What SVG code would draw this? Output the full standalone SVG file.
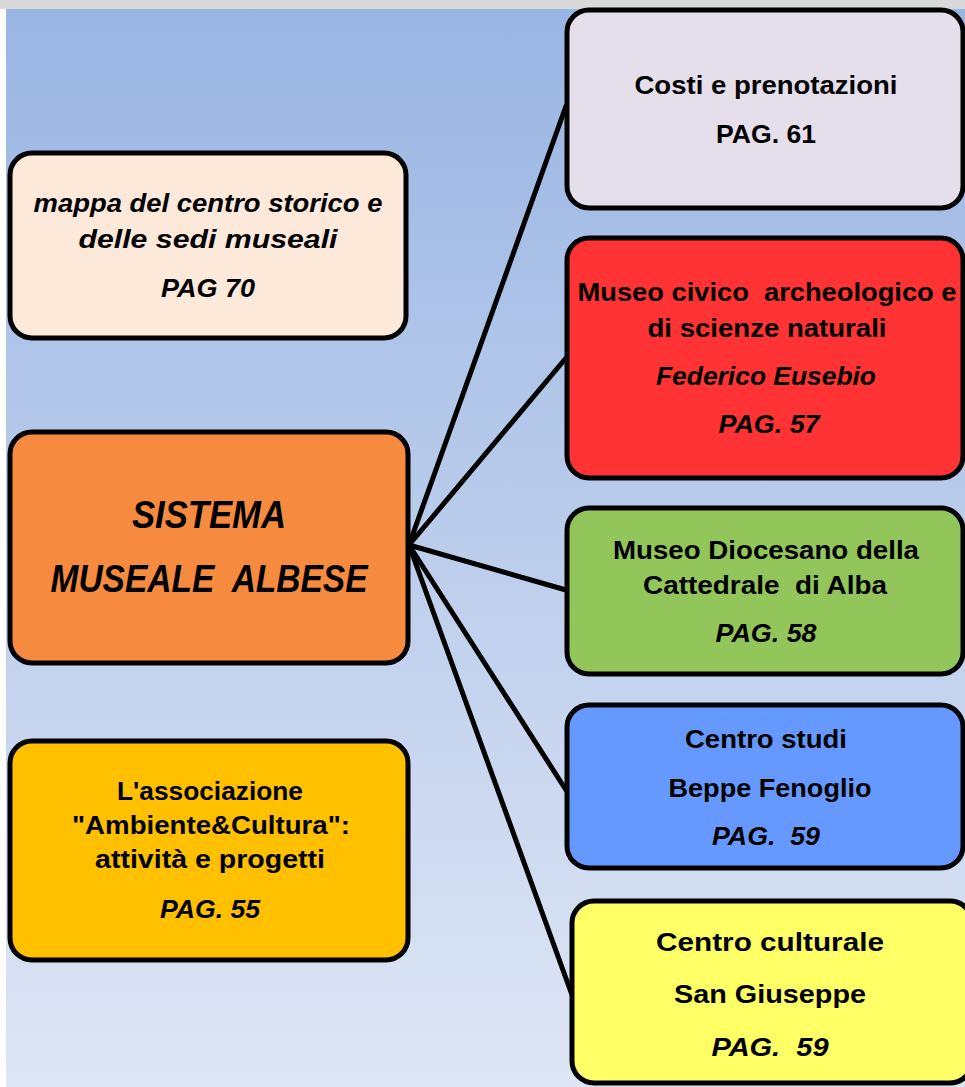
<svg xmlns="http://www.w3.org/2000/svg" width="965" height="1087" viewBox="0 0 965 1087">
<defs>
<linearGradient id="bg" x1="0" y1="0" x2="0" y2="1">
<stop offset="0" stop-color="#99b5e3"/>
<stop offset="0.5" stop-color="#bccdec"/>
<stop offset="1" stop-color="#dee6f5"/>
</linearGradient>
<style>
.box{stroke:#000;stroke-width:5}
.t{font-family:"Liberation Sans",Arial,sans-serif;font-weight:bold;font-size:26px;fill:#000;text-anchor:middle;white-space:pre}
.i{font-style:italic}
.big{font-size:38px}
.conn line{stroke:#000;stroke-width:5;stroke-linecap:round}
</style>
</defs>
<rect x="0" y="0" width="965" height="1087" fill="#ffffff"/>
<rect x="6" y="9" width="959" height="1078" fill="url(#bg)"/>
<rect x="0" y="0" width="965" height="9" fill="#d9d9d9"/>
<g class="conn">
<line x1="409" y1="545" x2="566" y2="106"/>
<line x1="409" y1="545" x2="566" y2="358"/>
<line x1="409" y1="545" x2="566" y2="590"/>
<line x1="409" y1="545" x2="566" y2="790"/>
<line x1="409" y1="545" x2="572" y2="995"/>
</g>
<g id="costi">
<rect class="box" x="567" y="10" width="396" height="198" rx="22" fill="#e5dfec"/>
<text class="t" x="766" y="94" textLength="263" lengthAdjust="spacingAndGlyphs">Costi e prenotazioni</text>
<text class="t" x="766" y="143" textLength="100" lengthAdjust="spacingAndGlyphs">PAG. 61</text>
</g>
<g id="museo-civico">
<rect class="box" x="567" y="238" width="396" height="240" rx="22" fill="#ff3333"/>
<text class="t" x="767" y="301" textLength="379" lengthAdjust="spacingAndGlyphs">Museo civico  archeologico e</text>
<text class="t" x="767" y="337" textLength="239" lengthAdjust="spacingAndGlyphs">di scienze naturali</text>
<text class="t i" x="766" y="385" textLength="220" lengthAdjust="spacingAndGlyphs">Federico Eusebio</text>
<text class="t i" x="769" y="433" textLength="101" lengthAdjust="spacingAndGlyphs">PAG. 57</text>
</g>
<g id="museo-diocesano">
<rect class="box" x="567" y="508" width="396" height="166" rx="22" fill="#92c55a"/>
<text class="t" x="766" y="559" textLength="306" lengthAdjust="spacingAndGlyphs">Museo Diocesano della</text>
<text class="t" x="765" y="594" textLength="244" lengthAdjust="spacingAndGlyphs">Cattedrale  di Alba</text>
<text class="t i" x="766" y="642" textLength="101" lengthAdjust="spacingAndGlyphs">PAG. 58</text>
</g>
<g id="centro-studi">
<rect class="box" x="567" y="705" width="396" height="163" rx="22" fill="#6699ff"/>
<text class="t" x="766" y="748" textLength="162" lengthAdjust="spacingAndGlyphs">Centro studi</text>
<text class="t" x="770" y="797" textLength="203" lengthAdjust="spacingAndGlyphs">Beppe Fenoglio</text>
<text class="t i" x="766" y="845" textLength="108" lengthAdjust="spacingAndGlyphs">PAG.  59</text>
</g>
<g id="centro-culturale">
<rect class="box" x="572" y="901" width="400" height="182" rx="22" fill="#ffff66"/>
<text class="t" x="770" y="951" textLength="228" lengthAdjust="spacingAndGlyphs">Centro culturale</text>
<text class="t" x="770" y="1003" textLength="192" lengthAdjust="spacingAndGlyphs">San Giuseppe</text>
<text class="t i" x="770" y="1056" textLength="117" lengthAdjust="spacingAndGlyphs">PAG.  59</text>
</g>
<g id="mappa">
<rect class="box" x="10" y="153" width="396" height="185" rx="22" fill="#fde9d9"/>
<text class="t i" x="208" y="212" textLength="349" lengthAdjust="spacingAndGlyphs">mappa del centro storico e</text>
<text class="t i" x="208" y="248" textLength="259" lengthAdjust="spacingAndGlyphs">delle sedi museali</text>
<text class="t i" x="208" y="297" textLength="94" lengthAdjust="spacingAndGlyphs">PAG 70</text>
</g>
<g id="sistema">
<rect class="box" x="10" y="432" width="398" height="231" rx="22" fill="#f68b40"/>
<text class="t i big" x="209" y="528" textLength="154" lengthAdjust="spacingAndGlyphs">SISTEMA</text>
<text class="t i big" x="209" y="592" textLength="317" lengthAdjust="spacingAndGlyphs">MUSEALE  ALBESE</text>
</g>
<g id="associazione">
<rect class="box" x="10" y="741" width="398" height="219" rx="22" fill="#ffc000"/>
<text class="t" x="210" y="800" textLength="186" lengthAdjust="spacingAndGlyphs">L'associazione</text>
<text class="t" x="211" y="834" textLength="278" lengthAdjust="spacingAndGlyphs">"Ambiente&amp;Cultura":</text>
<text class="t" x="210" y="868" textLength="230" lengthAdjust="spacingAndGlyphs">attività e progetti</text>
<text class="t i" x="210" y="918" textLength="100" lengthAdjust="spacingAndGlyphs">PAG. 55</text>
</g>
</svg>
